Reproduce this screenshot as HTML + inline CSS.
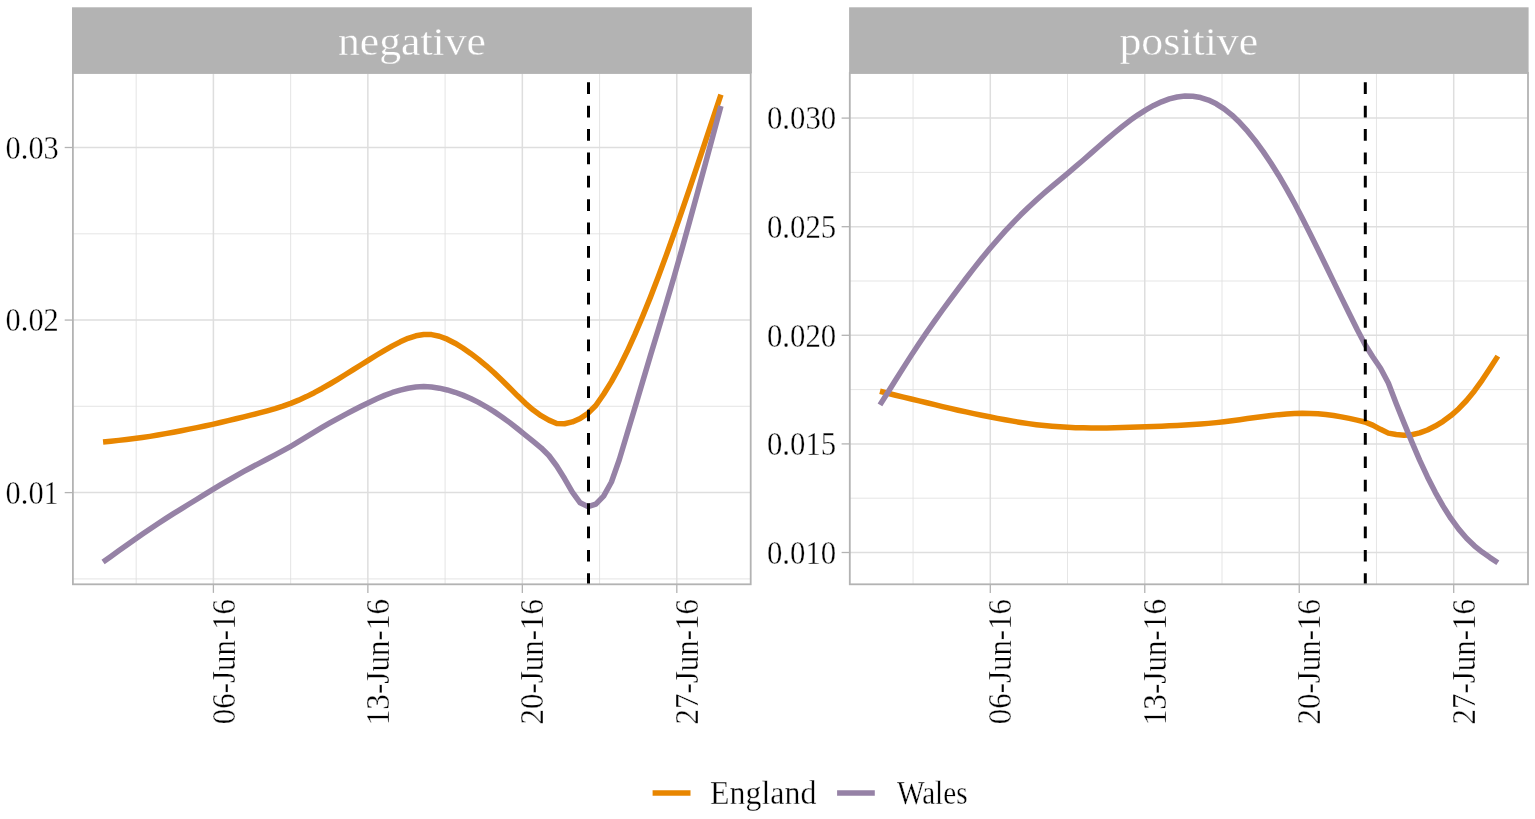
<!DOCTYPE html>
<html><head><meta charset="utf-8"><title>negative / positive</title>
<style>html,body{margin:0;padding:0;background:#fff;width:1535px;height:819px;overflow:hidden}svg{display:block}text{stroke:#FFFFFF;stroke-width:0.35px}text.st{stroke:#B3B3B3}</style>
</head><body>
<svg width="1535" height="819" viewBox="0 0 1535 819">
<rect x="0" y="0" width="1535" height="819" fill="#FFFFFF"/>
<g font-family="'Liberation Serif', 'DejaVu Serif', serif">
<line x1="136.17" y1="73.50" x2="136.17" y2="584.30" stroke="#DEDEDE" stroke-width="0.8"/>
<line x1="290.63" y1="73.50" x2="290.63" y2="584.30" stroke="#DEDEDE" stroke-width="0.8"/>
<line x1="445.10" y1="73.50" x2="445.10" y2="584.30" stroke="#DEDEDE" stroke-width="0.8"/>
<line x1="599.57" y1="73.50" x2="599.57" y2="584.30" stroke="#DEDEDE" stroke-width="0.8"/>
<line x1="72.90" y1="578.90" x2="750.70" y2="578.90" stroke="#DEDEDE" stroke-width="0.8"/>
<line x1="72.90" y1="406.30" x2="750.70" y2="406.30" stroke="#DEDEDE" stroke-width="0.8"/>
<line x1="72.90" y1="233.80" x2="750.70" y2="233.80" stroke="#DEDEDE" stroke-width="0.8"/>
<line x1="213.40" y1="73.50" x2="213.40" y2="584.30" stroke="#DEDEDE" stroke-width="1.5"/>
<line x1="367.87" y1="73.50" x2="367.87" y2="584.30" stroke="#DEDEDE" stroke-width="1.5"/>
<line x1="522.34" y1="73.50" x2="522.34" y2="584.30" stroke="#DEDEDE" stroke-width="1.5"/>
<line x1="676.81" y1="73.50" x2="676.81" y2="584.30" stroke="#DEDEDE" stroke-width="1.5"/>
<line x1="72.90" y1="492.60" x2="750.70" y2="492.60" stroke="#DEDEDE" stroke-width="1.5"/>
<line x1="72.90" y1="320.06" x2="750.70" y2="320.06" stroke="#DEDEDE" stroke-width="1.5"/>
<line x1="72.90" y1="147.50" x2="750.70" y2="147.50" stroke="#DEDEDE" stroke-width="1.5"/>
<path d="M103.06,441.93 L110.89,441.16 L118.71,440.37 L126.53,439.52 L134.35,438.59 L142.17,437.56 L149.99,436.39 L157.81,435.05 L165.63,433.64 L173.46,432.18 L181.28,430.69 L189.10,429.16 L196.92,427.61 L204.74,426.01 L212.56,424.33 L220.38,422.54 L228.20,420.67 L236.03,418.79 L243.85,416.86 L251.67,414.90 L259.49,412.90 L267.31,410.84 L275.13,408.61 L282.95,406.14 L290.77,403.33 L298.60,400.15 L306.42,396.60 L314.24,392.69 L322.06,388.47 L329.88,383.99 L337.70,379.30 L345.52,374.50 L353.34,369.64 L361.17,364.74 L368.99,359.85 L376.81,355.02 L384.63,350.33 L392.45,345.91 L400.27,341.85 L408.09,338.36 L415.91,335.80 L423.73,334.48 L431.56,334.61 L439.38,336.23 L447.20,339.18 L455.02,343.19 L462.84,348.01 L470.66,353.40 L478.48,359.33 L486.30,365.77 L494.13,372.76 L501.95,380.24 L509.77,387.99 L517.59,395.85 L525.41,403.33 L533.23,410.05 L541.05,415.70 L548.87,420.14 L556.70,423.49 L564.52,423.75 L572.34,421.92 L580.16,418.41 L587.98,413.16 L595.80,405.53 L603.62,394.24 L611.44,381.61 L619.27,367.40 L627.09,351.58 L634.91,334.45 L642.73,316.19 L650.55,296.89 L658.37,276.59 L666.19,255.38 L674.01,233.51 L681.83,211.20 L689.66,188.43 L697.48,165.20 L705.30,141.68 L713.12,118.05 L720.94,94.56" fill="none" stroke="#E88600" stroke-width="5.5" stroke-linecap="butt" stroke-linejoin="round"/>
<path d="M103.06,561.98 L110.89,556.40 L118.71,550.84 L126.53,545.29 L134.35,539.78 L142.17,534.32 L149.99,528.95 L157.81,523.71 L165.63,518.62 L173.46,513.68 L181.28,508.83 L189.10,504.03 L196.92,499.22 L204.74,494.41 L212.56,489.63 L220.38,484.91 L228.20,480.30 L236.03,475.82 L243.85,471.47 L251.67,467.23 L259.49,463.07 L267.31,458.98 L275.13,454.87 L282.95,450.67 L290.77,446.31 L298.60,441.73 L306.42,436.96 L314.24,432.13 L322.06,427.46 L329.88,422.92 L337.70,418.55 L345.52,414.30 L353.34,410.20 L361.17,406.24 L368.99,402.42 L376.81,398.76 L384.63,395.39 L392.45,392.47 L400.27,390.06 L408.09,388.21 L415.91,387.03 L423.73,386.62 L431.56,387.02 L439.38,388.17 L447.20,389.95 L455.02,392.29 L462.84,395.13 L470.66,398.49 L478.48,402.40 L486.30,406.78 L494.13,411.62 L501.95,416.93 L509.77,422.65 L517.59,428.72 L525.41,435.02 L533.23,441.40 L541.05,447.78 L548.87,455.51 L556.70,466.01 L564.52,478.56 L572.34,492.21 L580.16,502.83 L587.98,506.61 L595.80,504.07 L603.62,496.11 L611.44,482.03 L619.27,459.72 L627.09,433.73 L634.91,407.71 L642.73,381.37 L650.55,355.16 L658.37,329.43 L666.19,303.57 L674.01,276.93 L681.83,249.42 L689.66,221.24 L697.48,192.73 L705.30,163.95 L713.12,135.00 L720.94,105.98" fill="none" stroke="#9682A6" stroke-width="5.5" stroke-linecap="butt" stroke-linejoin="round"/>
<line x1="588.50" y1="584.30" x2="588.50" y2="73.50" stroke="#000" stroke-width="3" stroke-dasharray="11.69 11.69" stroke-dashoffset="0.7"/>
<rect x="72.90" y="73.00" width="677.80" height="511.30" fill="none" stroke="#B3B3B3" stroke-width="1.8"/>
<rect x="72.00" y="7.3" width="679.90" height="66.00" fill="#B3B3B3"/>
<text class="st" x="411.95" y="54.8" fill="#FFFFFF" font-size="41" text-anchor="middle" textLength="148.1" lengthAdjust="spacingAndGlyphs">negative</text>
<line x1="64.70" y1="492.60" x2="72.90" y2="492.60" stroke="#B3B3B3" stroke-width="1.3"/>
<line x1="64.70" y1="320.06" x2="72.90" y2="320.06" stroke="#B3B3B3" stroke-width="1.3"/>
<line x1="64.70" y1="147.50" x2="72.90" y2="147.50" stroke="#B3B3B3" stroke-width="1.3"/>
<line x1="213.40" y1="584.30" x2="213.40" y2="592.90" stroke="#B3B3B3" stroke-width="1.3"/>
<line x1="367.87" y1="584.30" x2="367.87" y2="592.90" stroke="#B3B3B3" stroke-width="1.3"/>
<line x1="522.34" y1="584.30" x2="522.34" y2="592.90" stroke="#B3B3B3" stroke-width="1.3"/>
<line x1="676.81" y1="584.30" x2="676.81" y2="592.90" stroke="#B3B3B3" stroke-width="1.3"/>
<text x="58.80" y="503.80" font-size="33.5" text-anchor="end" textLength="53.2" lengthAdjust="spacingAndGlyphs">0.01</text>
<text x="58.80" y="331.26" font-size="33.5" text-anchor="end" textLength="53.2" lengthAdjust="spacingAndGlyphs">0.02</text>
<text x="58.80" y="158.70" font-size="33.5" text-anchor="end" textLength="53.2" lengthAdjust="spacingAndGlyphs">0.03</text>
<text transform="translate(234.50,599.00) rotate(-90)" font-size="33.5" text-anchor="end" textLength="125.2" lengthAdjust="spacingAndGlyphs">06-Jun-16</text>
<text transform="translate(388.97,599.00) rotate(-90)" font-size="33.5" text-anchor="end" textLength="126.2" lengthAdjust="spacingAndGlyphs">13-Jun-16</text>
<text transform="translate(543.44,599.00) rotate(-90)" font-size="33.5" text-anchor="end" textLength="125.4" lengthAdjust="spacingAndGlyphs">20-Jun-16</text>
<text transform="translate(697.91,599.00) rotate(-90)" font-size="33.5" text-anchor="end" textLength="125.4" lengthAdjust="spacingAndGlyphs">27-Jun-16</text>
<line x1="913.07" y1="73.50" x2="913.07" y2="584.30" stroke="#DEDEDE" stroke-width="0.8"/>
<line x1="1067.53" y1="73.50" x2="1067.53" y2="584.30" stroke="#DEDEDE" stroke-width="0.8"/>
<line x1="1222.00" y1="73.50" x2="1222.00" y2="584.30" stroke="#DEDEDE" stroke-width="0.8"/>
<line x1="1376.47" y1="73.50" x2="1376.47" y2="584.30" stroke="#DEDEDE" stroke-width="0.8"/>
<line x1="849.80" y1="172.40" x2="1528.00" y2="172.40" stroke="#DEDEDE" stroke-width="0.8"/>
<line x1="849.80" y1="281.00" x2="1528.00" y2="281.00" stroke="#DEDEDE" stroke-width="0.8"/>
<line x1="849.80" y1="389.60" x2="1528.00" y2="389.60" stroke="#DEDEDE" stroke-width="0.8"/>
<line x1="849.80" y1="498.20" x2="1528.00" y2="498.20" stroke="#DEDEDE" stroke-width="0.8"/>
<line x1="990.30" y1="73.50" x2="990.30" y2="584.30" stroke="#DEDEDE" stroke-width="1.5"/>
<line x1="1144.77" y1="73.50" x2="1144.77" y2="584.30" stroke="#DEDEDE" stroke-width="1.5"/>
<line x1="1299.24" y1="73.50" x2="1299.24" y2="584.30" stroke="#DEDEDE" stroke-width="1.5"/>
<line x1="1453.71" y1="73.50" x2="1453.71" y2="584.30" stroke="#DEDEDE" stroke-width="1.5"/>
<line x1="849.80" y1="118.10" x2="1528.00" y2="118.10" stroke="#DEDEDE" stroke-width="1.5"/>
<line x1="849.80" y1="226.70" x2="1528.00" y2="226.70" stroke="#DEDEDE" stroke-width="1.5"/>
<line x1="849.80" y1="335.30" x2="1528.00" y2="335.30" stroke="#DEDEDE" stroke-width="1.5"/>
<line x1="849.80" y1="443.90" x2="1528.00" y2="443.90" stroke="#DEDEDE" stroke-width="1.5"/>
<line x1="849.80" y1="552.50" x2="1528.00" y2="552.50" stroke="#DEDEDE" stroke-width="1.5"/>
<path d="M879.96,391.26 L887.79,393.27 L895.61,395.22 L903.43,397.12 L911.25,399.00 L919.07,400.89 L926.89,402.79 L934.71,404.68 L942.53,406.56 L950.36,408.40 L958.18,410.20 L966.00,411.94 L973.82,413.63 L981.64,415.25 L989.46,416.82 L997.28,418.33 L1005.10,419.79 L1012.93,421.16 L1020.75,422.45 L1028.57,423.62 L1036.39,424.66 L1044.21,425.55 L1052.03,426.28 L1059.85,426.86 L1067.67,427.31 L1075.50,427.65 L1083.32,427.86 L1091.14,427.98 L1098.96,428.00 L1106.78,427.94 L1114.60,427.80 L1122.42,427.60 L1130.24,427.36 L1138.07,427.07 L1145.89,426.77 L1153.71,426.46 L1161.53,426.13 L1169.35,425.79 L1177.17,425.42 L1184.99,425.01 L1192.81,424.54 L1200.63,424.00 L1208.46,423.37 L1216.28,422.63 L1224.10,421.76 L1231.92,420.77 L1239.74,419.70 L1247.56,418.58 L1255.38,417.48 L1263.20,416.43 L1271.03,415.47 L1278.85,414.64 L1286.67,413.99 L1294.49,413.54 L1302.31,413.32 L1310.13,413.38 L1317.95,413.76 L1325.77,414.48 L1333.60,415.52 L1341.42,416.85 L1349.24,418.40 L1357.06,420.13 L1364.88,422.02 L1372.70,425.17 L1380.52,429.34 L1388.34,433.12 L1396.17,434.48 L1403.99,435.19 L1411.81,434.71 L1419.63,432.94 L1427.45,430.00 L1435.27,426.08 L1443.09,421.32 L1450.91,415.59 L1458.73,408.72 L1466.56,400.52 L1474.38,390.93 L1482.20,380.06 L1490.02,368.28 L1497.84,356.13" fill="none" stroke="#E88600" stroke-width="5.5" stroke-linecap="butt" stroke-linejoin="round"/>
<path d="M879.96,404.88 L887.79,392.46 L895.61,380.03 L903.43,367.64 L911.25,355.39 L919.07,343.47 L926.89,331.95 L934.71,320.83 L942.53,310.00 L950.36,299.37 L958.18,288.85 L966.00,278.50 L973.82,268.39 L981.64,258.56 L989.46,249.07 L997.28,239.93 L1005.10,231.18 L1012.93,222.82 L1020.75,214.84 L1028.57,207.22 L1036.39,199.94 L1044.21,192.97 L1052.03,186.30 L1059.85,179.80 L1067.67,173.33 L1075.50,166.71 L1083.32,159.97 L1091.14,153.12 L1098.96,146.23 L1106.78,139.40 L1114.60,132.73 L1122.42,126.34 L1130.24,120.34 L1138.07,114.81 L1145.89,109.83 L1153.71,105.47 L1161.53,101.81 L1169.35,98.95 L1177.17,96.99 L1184.99,96.04 L1192.81,96.19 L1200.63,97.51 L1208.46,100.05 L1216.28,103.83 L1224.10,108.86 L1231.92,115.11 L1239.74,122.57 L1247.56,131.19 L1255.38,140.89 L1263.20,151.59 L1271.03,163.20 L1278.85,175.69 L1286.67,189.06 L1294.49,203.25 L1302.31,218.18 L1310.13,233.64 L1317.95,249.46 L1325.77,265.51 L1333.60,281.61 L1341.42,297.63 L1349.24,313.52 L1357.06,329.33 L1364.88,344.18 L1372.70,356.76 L1380.52,368.22 L1388.34,383.05 L1396.17,403.49 L1403.99,422.89 L1411.81,441.90 L1419.63,460.04 L1427.45,476.91 L1435.27,492.28 L1443.09,506.13 L1450.91,518.42 L1458.73,529.11 L1466.56,538.20 L1474.38,545.78 L1482.20,552.12 L1490.02,557.61 L1497.84,562.72" fill="none" stroke="#9682A6" stroke-width="5.5" stroke-linecap="butt" stroke-linejoin="round"/>
<line x1="1365.30" y1="584.30" x2="1365.30" y2="73.50" stroke="#000" stroke-width="3" stroke-dasharray="11.69 11.69" stroke-dashoffset="0.7"/>
<rect x="849.80" y="73.00" width="678.20" height="511.30" fill="none" stroke="#B3B3B3" stroke-width="1.8"/>
<rect x="849.10" y="7.3" width="679.50" height="66.00" fill="#B3B3B3"/>
<text class="st" x="1188.85" y="54.8" fill="#FFFFFF" font-size="41" text-anchor="middle" textLength="138.8" lengthAdjust="spacingAndGlyphs">positive</text>
<line x1="841.60" y1="552.50" x2="849.80" y2="552.50" stroke="#B3B3B3" stroke-width="1.3"/>
<line x1="841.60" y1="443.90" x2="849.80" y2="443.90" stroke="#B3B3B3" stroke-width="1.3"/>
<line x1="841.60" y1="335.30" x2="849.80" y2="335.30" stroke="#B3B3B3" stroke-width="1.3"/>
<line x1="841.60" y1="226.70" x2="849.80" y2="226.70" stroke="#B3B3B3" stroke-width="1.3"/>
<line x1="841.60" y1="118.10" x2="849.80" y2="118.10" stroke="#B3B3B3" stroke-width="1.3"/>
<line x1="990.30" y1="584.30" x2="990.30" y2="592.90" stroke="#B3B3B3" stroke-width="1.3"/>
<line x1="1144.77" y1="584.30" x2="1144.77" y2="592.90" stroke="#B3B3B3" stroke-width="1.3"/>
<line x1="1299.24" y1="584.30" x2="1299.24" y2="592.90" stroke="#B3B3B3" stroke-width="1.3"/>
<line x1="1453.71" y1="584.30" x2="1453.71" y2="592.90" stroke="#B3B3B3" stroke-width="1.3"/>
<text x="836.20" y="563.70" font-size="33.5" text-anchor="end" textLength="69.3" lengthAdjust="spacingAndGlyphs">0.010</text>
<text x="836.20" y="455.10" font-size="33.5" text-anchor="end" textLength="69.3" lengthAdjust="spacingAndGlyphs">0.015</text>
<text x="836.20" y="346.50" font-size="33.5" text-anchor="end" textLength="69.3" lengthAdjust="spacingAndGlyphs">0.020</text>
<text x="836.20" y="237.90" font-size="33.5" text-anchor="end" textLength="69.3" lengthAdjust="spacingAndGlyphs">0.025</text>
<text x="836.20" y="129.30" font-size="33.5" text-anchor="end" textLength="69.3" lengthAdjust="spacingAndGlyphs">0.030</text>
<text transform="translate(1011.40,599.00) rotate(-90)" font-size="33.5" text-anchor="end" textLength="125.2" lengthAdjust="spacingAndGlyphs">06-Jun-16</text>
<text transform="translate(1165.87,599.00) rotate(-90)" font-size="33.5" text-anchor="end" textLength="126.2" lengthAdjust="spacingAndGlyphs">13-Jun-16</text>
<text transform="translate(1320.34,599.00) rotate(-90)" font-size="33.5" text-anchor="end" textLength="125.4" lengthAdjust="spacingAndGlyphs">20-Jun-16</text>
<text transform="translate(1474.81,599.00) rotate(-90)" font-size="33.5" text-anchor="end" textLength="125.4" lengthAdjust="spacingAndGlyphs">27-Jun-16</text>
<line x1="652.6" y1="793.0" x2="690.5" y2="793.0" stroke="#E88600" stroke-width="5.5"/>
<line x1="837.1" y1="793.0" x2="874.8" y2="793.0" stroke="#9682A6" stroke-width="5.5"/>
<text x="710.1" y="803.5" font-size="33.2" textLength="106.3" lengthAdjust="spacingAndGlyphs">England</text>
<text x="896.9" y="803.5" font-size="33.2" textLength="70.7" lengthAdjust="spacingAndGlyphs">Wales</text>
</g></svg>
</body></html>
